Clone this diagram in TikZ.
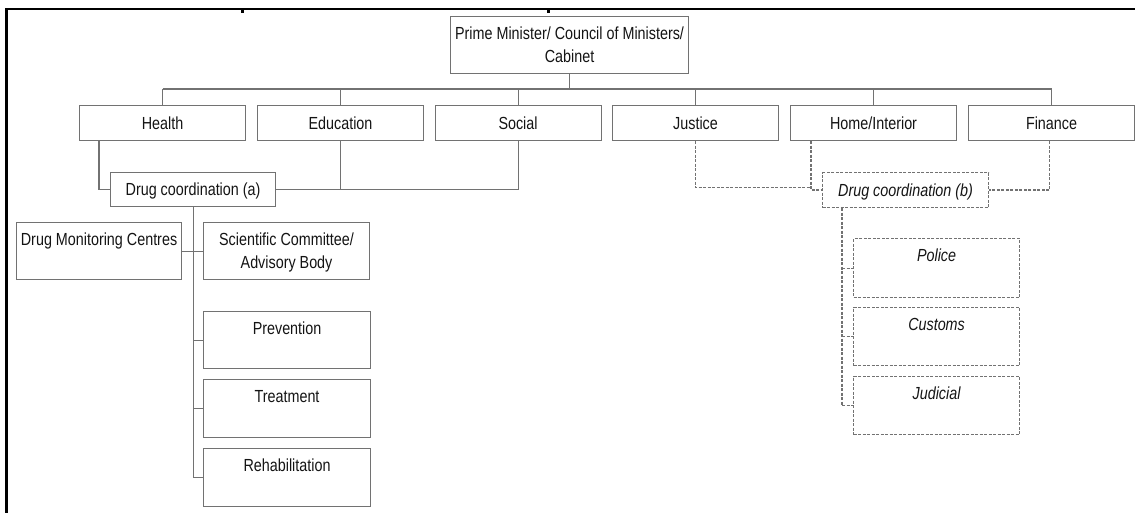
\documentclass[tikz,border=0pt]{standalone}
\usepackage{fontspec}
\setmainfont{Liberation Sans}[FakeStretch=0.82]
\usetikzlibrary{calc}
\definecolor{ln}{HTML}{727272}
\definecolor{txt}{HTML}{141414}
\newcommand\fsz{\fontsize{17.5}{23}\selectfont}
\tikzset{
  every node/.style={font=\fsz, text=txt},
  box/.style={draw=ln, line width=1.1pt, rectangle, inner sep=0pt, anchor=north west},
  dbox/.style={box, dash pattern=on 3pt off 1.5pt, font=\fsz\itshape},
  one/.style={text height=12.5pt, text depth=0pt},
  wire/.style={draw=ln, line width=1.1pt},
  dwire/.style={wire, dash pattern=on 3pt off 1.5pt},
  toptext/.style={label={[anchor=north, yshift=-11pt, inner sep=0pt, align=center, text height=12.5pt, text depth=0pt]north:#1}},
  toptexti/.style={label={[anchor=north, yshift=-11pt, inner sep=0pt, align=center, text height=12.5pt, text depth=0pt, font=\fsz\itshape]north:#1}},
  toptwo/.style={label={[anchor=north, yshift=-11pt, inner sep=0pt, align=center]north:#1}},
}
\begin{document}
\begin{tikzpicture}[x=1pt,y=-1pt]
\useasboundingbox (0,0) rectangle (1135,513);
% frame remnants
\draw[line width=2.2pt, black] (6.5,513) -- (6.5,9.3) -- (1135,9.3);
\fill[black] (241,9) rectangle (244,13.5);
\fill[black] (547,9) rectangle (550,13.5);

% top
\node[box, align=center, minimum width=238pt, minimum height=57pt] (pm) at (450,16) {Prime Minister/ Council of Ministers/\\Cabinet};

% ministries
\node[box, one, minimum width=166pt, minimum height=35pt] (health) at (79,105) {Health};
\node[box, one, minimum width=166pt, minimum height=35pt] (edu) at (257,105) {Education};
\node[box, one, minimum width=166pt, minimum height=35pt] (soc) at (434.5,105) {Social};
\node[box, one, minimum width=166pt, minimum height=35pt] (jus) at (612,105) {Justice};
\node[box, one, minimum width=166pt, minimum height=35pt] (home) at (790,105) {Home/Interior};
\node[box, one, minimum width=166pt, minimum height=35pt] (fin) at (968,105) {Finance};

% coordination
\node[box, one, minimum width=165pt, minimum height=34pt] (dca) at (110,172) {Drug coordination (a)};
\node[dbox, one, minimum width=166pt, minimum height=35pt] (dcb) at (822,172) {Drug coordination (b)};

% left branch
\node[box, minimum width=165pt, minimum height=57pt, toptext={Drug Monitoring Centres}] (dmc) at (16,222) {};
\node[box, minimum width=166pt, minimum height=57pt, toptwo={Scientific Committee/\\Advisory Body}] (sc) at (203,222) {};
\node[box, minimum width=167pt, minimum height=57pt, toptext={Prevention}] (prev) at (203,311) {};
\node[box, minimum width=167pt, minimum height=58pt, toptext={Treatment}] (treat) at (203,379) {};
\node[box, minimum width=167pt, minimum height=58pt, toptext={Rehabilitation}] (rehab) at (203,448) {};

% right branch
\node[dbox, minimum width=166pt, minimum height=59pt, toptexti={Police}] (police) at (853,238) {};
\node[dbox, minimum width=166pt, minimum height=58pt, toptexti={Customs}] (customs) at (853,307) {};
\node[dbox, minimum width=166pt, minimum height=58pt, toptexti={Judicial}] (judicial) at (853,376) {};

% bus
\coordinate (busL) at (health.north |- 0,89);
\coordinate (busR) at (fin.north |- 0,89);
\draw[wire] (pm.south) -- (pm.south |- busL);
\draw[wire] (busL) -- (busR);
\foreach \n in {health,edu,soc,jus,home,fin}
  \draw[wire] (\n.north) -- (\n.north |- busL);

% to coordination (a)
\coordinate (hs) at ([xshift=20pt]health.south west);
\draw[wire] (hs) |- (dca.west);
\draw[wire] (edu.south) |- (dca.east);
\draw[wire] (soc.south) |- (dca.east);

% to coordination (b)
\coordinate (hms) at ([xshift=21pt]home.south west);
\draw[dwire] (jus.south) |- (hms |- 0,187.5);
\draw[dwire] (hms) |- (dcb.west);
\draw[dwire] ([xshift=-2pt]fin.south) |- (dcb.east);

% children of (a)
\draw[wire] (dca.south) -- (dca.south |- rehab.west);
\draw[wire] (dmc.east) -- (sc.west);
\foreach \n in {prev,treat,rehab}
  \draw[wire] (dca.south |- \n.west) -- (\n.west);

% children of (b)
\coordinate (bs) at ([xshift=20pt]dcb.south west);
\draw[dwire] (bs) -- (bs |- judicial.west);
\foreach \n in {police,customs,judicial}
  \draw[dwire] (bs |- \n.west) -- (\n.west);
\end{tikzpicture}
\end{document}
